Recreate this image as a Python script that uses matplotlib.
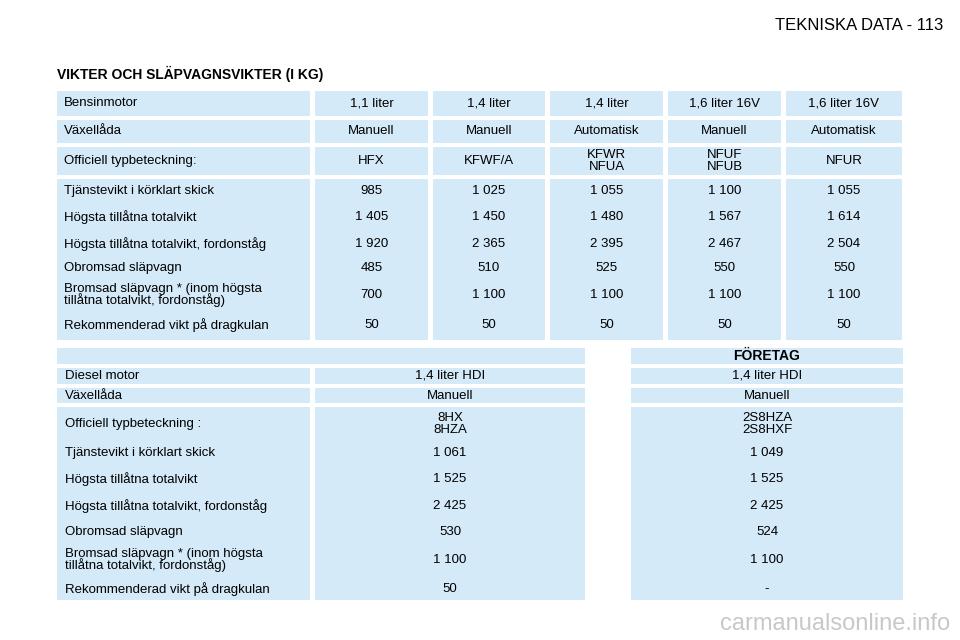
import matplotlib
matplotlib.use("Agg")
import matplotlib.pyplot as plt
from matplotlib.patches import Rectangle

plt.rcParams['font.family'] = ['Liberation Sans', 'DejaVu Sans']

page_title = "TEKNISKA DATA - 113"
section_title = "VIKTER OCH SLÄPVAGNSVIKTER (I KG)"

petrol_header = ["Bensinmotor", "1,1 liter", "1,4 liter", "1,4 liter", "1,6 liter 16V", "1,6 liter 16V"]
petrol_gearbox = ["Växellåda", "Manuell", "Manuell", "Automatisk", "Manuell", "Automatisk"]
petrol_type = ["Officiell typbeteckning:", "HFX", "KFWF/A", "KFWR\nNFUA", "NFUF\nNFUB", "NFUR"]
weight_labels = ["Tjänstevikt i körklart skick", "Högsta tillåtna totalvikt",
                 "Högsta tillåtna totalvikt, fordonståg", "Obromsad släpvagn",
                 "Bromsad släpvagn * (inom högsta\ntillåtna totalvikt, fordonståg)",
                 "Rekommenderad vikt på dragkulan"]
petrol_weights = [
    ["985", "1 025", "1 055", "1 100", "1 055"],
    ["1 405", "1 450", "1 480", "1 567", "1 614"],
    ["1 920", "2 365", "2 395", "2 467", "2 504"],
    ["485", "510", "525", "550", "550"],
    ["700", "1 100", "1 100", "1 100", "1 100"],
    ["50", "50", "50", "50", "50"],
]

diesel_section = ["", "FÖRETAG"]
diesel_header = ["Diesel motor", "1,4 liter HDI", "1,4 liter HDI"]
diesel_gearbox = ["Växellåda", "Manuell", "Manuell"]
diesel_type = ["Officiell typbeteckning :", "8HX\n8HZA", "2S8HZA\n2S8HXF"]
diesel_weights = [
    ["1 061", "1 049"],
    ["1 525", "1 525"],
    ["2 425", "2 425"],
    ["530", "524"],
    ["1 100", "1 100"],
    ["50", "-"],
]

BLUE = "#d5eaf8"
fig = plt.figure(figsize=(9.6, 6.4), dpi=100)
ax = fig.add_axes([0, 0, 1, 1])
ax.set_xlim(0, 960); ax.set_ylim(640, 0); ax.axis("off")
FS = 9.5

def box(x0, x1, y0, y1):
    ax.add_patch(Rectangle((x0, y0), x1 - x0, y1 - y0, color=BLUE, lw=0))

ax.text(943, 26, page_title, ha="right", va="center", fontsize=12)
ax.text(57, 74, section_title, ha="left", va="center", fontsize=10, fontweight="bold")

# top table
cols = [(57, 310), (315, 428), (433, 545), (550, 663), (668, 781), (786, 902)]
groups = [(91, 116, [103], [petrol_header]),
          (120, 143, [131], [petrol_gearbox]),
          (147, 175, [161], [petrol_type])]
for y0, y1, ys, rows in groups:
    for x0, x1 in cols:
        box(x0, x1, y0, y1)
    for y, row in zip(ys, rows):
        for i, (x0, x1) in enumerate(cols):
            if i == 0:
                ax.text(x0 + 7, y, row[i], ha="left", va="center", fontsize=FS, linespacing=0.9)
            else:
                ax.text((x0 + x1) / 2, y, row[i], ha="center", va="center", fontsize=FS, linespacing=0.9)
for x0, x1 in cols:
    box(x0, x1, 179, 340)
wy = [191, 217, 244, 268, 295, 325]
for y, lab, vals in zip(wy, weight_labels, petrol_weights):
    ax.text(64, y, lab, ha="left", va="center", fontsize=FS, linespacing=0.9)
    for (x0, x1), v in zip(cols[1:], vals):
        ax.text((x0 + x1) / 2, y, v, ha="center", va="center", fontsize=FS)

# bottom table
dcols = [(57, 310), (315, 585), (631, 903)]
box(57, 585, 348, 364)
box(631, 903, 348, 364)
ax.text(767, 356, diesel_section[1], ha="center", va="center", fontsize=10, fontweight="bold")
for (y0, y1, y), row in [((368, 384, 376), diesel_header), ((388, 403, 396), diesel_gearbox)]:
    for i, (x0, x1) in enumerate(dcols):
        box(x0, x1, y0, y1)
        if i == 0:
            ax.text(x0 + 8, y, row[i], ha="left", va="center", fontsize=FS)
        else:
            ax.text((x0 + x1) / 2, y, row[i], ha="center", va="center", fontsize=FS)
for x0, x1 in dcols:
    box(x0, x1, 407, 600)
ax.text(65, 424, diesel_type[0], ha="left", va="center", fontsize=FS)
for (x0, x1), v in zip(dcols[1:], diesel_type[1:]):
    ax.text((x0 + x1) / 2, 424, v, ha="center", va="center", fontsize=FS, linespacing=0.9)
dy = [453, 479, 506, 532, 560, 589]
for y, lab, vals in zip(dy, weight_labels, diesel_weights):
    ax.text(65, y, lab, ha="left", va="center", fontsize=FS, linespacing=0.9)
    for (x0, x1), v in zip(dcols[1:], vals):
        ax.text((x0 + x1) / 2, y, v, ha="center", va="center", fontsize=FS)

ax.text(950, 624, "carmanualsonline.info", ha="right", va="center", fontsize=17, color="#c8c8c8")

fig.savefig("out.png", dpi=100)
